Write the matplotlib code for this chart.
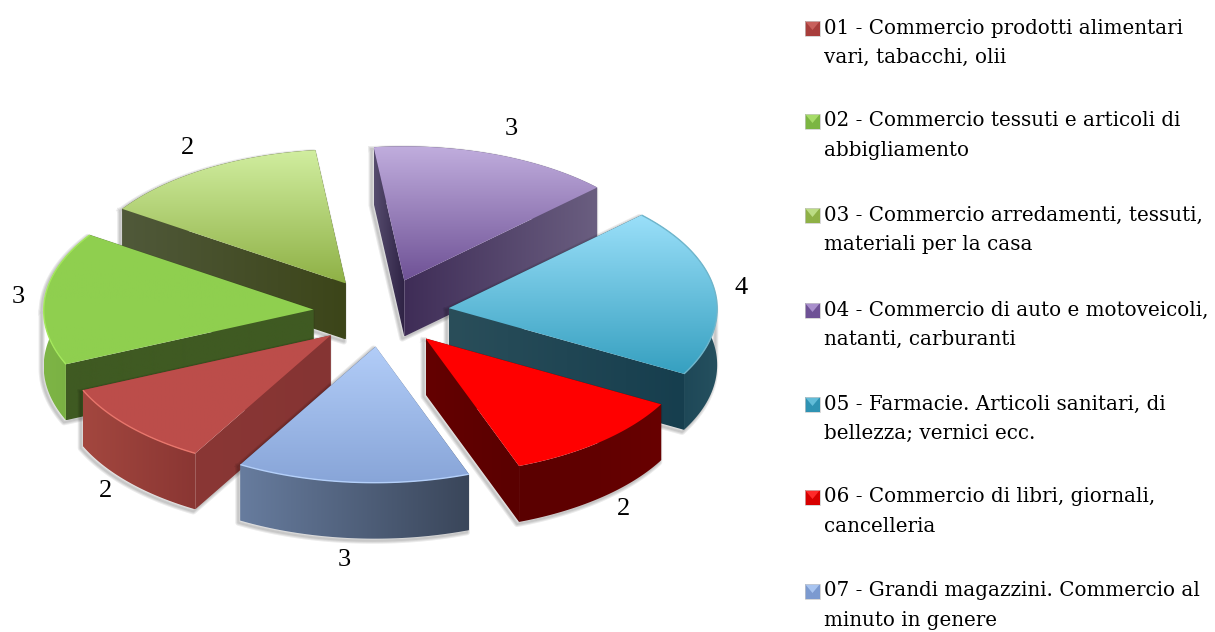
"""
Exploded 3D pie of shops by category, with a two-line legend on the right.
The pie is drawn by hand: matplotlib has no 3D pie, so each slice is a
projected prism with gradient faces.
"""

import numpy as np
import matplotlib
matplotlib.use("Agg")
import matplotlib.pyplot as plt
from matplotlib.patches import Polygon

# ============================================================
# Data
# ============================================================

CATEGORIES = [
    "01 - Commercio prodotti alimentari\nvari, tabacchi, olii",
    "02 - Commercio tessuti e articoli di\nabbigliamento",
    "03 - Commercio arredamenti, tessuti,\nmateriali per la casa",
    "04 - Commercio di auto e motoveicoli,\nnatanti, carburanti",
    "05 - Farmacie. Articoli sanitari, di\nbellezza; vernici ecc.",
    "06 - Commercio di libri, giornali,\ncancelleria",
    "07 - Grandi magazzini. Commercio al\nminuto in genere",
]

# slice sizes as measured on the picture, the printed labels are rounded
VALUES = [1.918, 3.028, 2.629, 2.782, 3.851, 2.148, 2.644]
LABELS = ["2", "3", "2", "3", "4", "2", "3"]

# ============================================================
# Layout and style
# ============================================================

WIDTH, HEIGHT = 1215, 632

# plane of the pie -> pixels (homography), first slice angle, explosion
HOMOGRAPHY = [269.655, -10.233, 381.302, -5.524, -133.434, 312.524, 0.00191, 0.00488]
START_ANGLE = -2.1378
EXPLODE = 0.2526
DEPTH = 56

LABEL_POS = [(105, 491), (18, 297), (187, 148), (511, 129), (741, 288), (623, 509), (344, 560)]
LEGEND_Y = [28, 121, 215, 310, 404, 497, 591]
LEGEND_LINE = 29

# top gradient (upper, lower), then left-to-right wall gradients:
# radial wall at the slice's first edge, at its second edge, outer wall
STYLES = [
    dict(top=("#bc4e4b", "#bc4d4a"), wall_a=("#8a3735", "#853433"), wall_b=("#853433", "#853433"),
         outer=("#a3473f", "#8a3633"), rim="#e8766c", swatch=("#c8605c", "#a83e3c")),
    dict(top=("#8fcf50", "#8fcf4f"), wall_a=("#3f5a22", "#3f5a22"), wall_b=("#3f5a22", "#3f5a22"),
         outer=("#7eb546", "#76ad40"), rim="#a4e85c", swatch=("#a6dc68", "#7cb642")),
    dict(top=("#d1eea0", "#8fb146"), wall_a=("#50593a", "#3c4519"), wall_b=("#3c4519", "#3c4519"),
         outer=("#50593a", "#3c4519"), rim=None, swatch=("#bcdc84", "#8fb146")),
    dict(top=("#c1aede", "#6f5296"), wall_a=("#564c6e", "#2e2244"), wall_b=("#3f2d57", "#6a5e80"),
         outer=("#3f2d57", "#6a5e80"), rim=None, swatch=("#a98fcc", "#6f5296")),
    dict(top=("#9adff9", "#36a0c0"), wall_a=("#2a4e5a", "#2a4e5a"), wall_b=("#2a4e5a", "#163e4e"),
         outer=("#163e4e", "#25505f"), rim="#6fb6cc", swatch=("#62bcd8", "#2f93b3")),
    dict(top=("#ff0000", "#ff0000"), wall_a=("#640000", "#640000"), wall_b=("#640000", "#5a0000"),
         outer=("#5a0000", "#680000"), rim=None, swatch=("#ff2a2a", "#d80000")),
    dict(top=("#b2cdf8", "#88a5d8"), wall_a=("#677c9e", "#3a465a"), wall_b=("#677c9e", "#3a465a"),
         outer=("#677c9e", "#3a465a"), rim="#b4d0fa", swatch=("#a8c4f0", "#7c9ad0")),
]

# far slices first so the near ones paint over them
DRAW_ORDER = [2, 3, 4, 1, 0, 5, 6]

SERIF = "DejaVu Serif"
LABEL_FONT = "Liberation Serif"


# ============================================================
# Helpers
# ============================================================

def project(x, y):
    h = HOMOGRAPHY
    w = 1 + h[6] * x + h[7] * y
    return (h[0] * x + h[1] * y + h[2]) / w, (h[3] * x + h[4] * y + h[5]) / w


def slice_outline(t1, t2):
    """Apex and outer arc of one exploded slice, in pixels."""
    mid = (t1 + t2) / 2
    ax, ay = EXPLODE * np.cos(mid), EXPLODE * np.sin(mid)
    tt = np.linspace(t1, t2, 60)
    apex = np.array(project(ax, ay))
    arc = np.column_stack(project(ax + np.cos(tt), ay + np.sin(tt)))
    return apex, arc


def hex_rgb(c):
    return np.array(matplotlib.colors.to_rgb(c))


def gradient_fill(ax, pts, c1, c2, vertical=False, zorder=2):
    """Fill a polygon with a linear gradient clipped to its shape."""
    pts = np.asarray(pts)
    x0, y0 = pts.min(axis=0)
    x1, y1 = pts.max(axis=0)
    ramp = np.linspace(0, 1, 128)[:, None]
    colors = hex_rgb(c1) * (1 - ramp) + hex_rgb(c2) * ramp
    img = colors[:, None, :] if vertical else colors[None, :, :]
    im = ax.imshow(img, extent=[x0, x1 + 0.01, y1 + 0.01, y0], aspect="auto",
                   interpolation="bilinear", zorder=zorder)
    clip = Polygon(pts, closed=True, transform=ax.transData, facecolor="none", edgecolor="none")
    ax.add_patch(clip)
    im.set_clip_path(clip)


def convex_hull(pts):
    pts = sorted(map(tuple, pts))

    def half(seq):
        out = []
        for p in seq:
            while len(out) > 1 and (out[-1][0] - out[-2][0]) * (p[1] - out[-2][1]) \
                    - (out[-1][1] - out[-2][1]) * (p[0] - out[-2][0]) <= 0:
                out.pop()
            out.append(p)
        return out[:-1]

    return np.array(half(pts) + half(pts[::-1]))


def draw_shadow(ax, pts, zorder):
    # soft grey edge, pushed down-left so only that side shows
    hull = convex_hull(pts) + np.array([-2.0, 2.0])
    closed = np.vstack([hull, hull[:1]])
    for lw in [4.5, 3, 1.5]:
        ax.plot(closed[:, 0], closed[:, 1], color="black", alpha=0.08, lw=lw,
                solid_joinstyle="round", zorder=zorder)


def draw_slice(ax, t1, t2, style, zorder):
    apex, arc = slice_outline(t1, t2)
    down = np.array([0, DEPTH])

    draw_shadow(ax, np.vstack([apex, apex + down, arc, arc + down]), zorder)

    wall_a = np.array([apex, arc[0], arc[0] + down, apex + down])
    wall_b = np.array([apex, arc[-1], arc[-1] + down, apex + down])
    outer = np.vstack([arc, (arc + down)[::-1]])

    # back walls first, they are covered by the front ones and the top
    faces = [(wall_a, style["wall_a"]), (wall_b, style["wall_b"]), (outer, style["outer"])]
    faces.sort(key=lambda f: f[0][:, 1].mean())
    for pts, (c1, c2) in faces:
        gradient_fill(ax, pts, c1, c2, zorder=zorder)

    top = np.vstack([apex, arc])
    gradient_fill(ax, top, style["top"][0], style["top"][1], vertical=True, zorder=zorder)
    if style["rim"]:
        ax.plot(arc[:, 0], arc[:, 1], color=style["rim"], lw=1.0, zorder=zorder,
                solid_capstyle="butt")


def draw_swatch(ax, x, y, style):
    size = 15
    box = [(x, y), (x + size, y), (x + size, y + size), (x, y + size)]
    gradient_fill(ax, box, style["swatch"][1], style["swatch"][1], vertical=True, zorder=5)
    ax.add_patch(Polygon([(x, y), (x + size, y), (x + size / 2, y + size * 0.6)],
                         closed=True, facecolor=style["swatch"][0], edgecolor="none", zorder=6))
    ax.add_patch(Polygon(box, closed=True, facecolor="none", edgecolor="#c8c8c8", lw=0.5, zorder=6))


def main():
    fig = plt.figure(figsize=(WIDTH / 100, HEIGHT / 100), dpi=100)
    ax = fig.add_axes([0, 0, 1, 1])

    shares = np.cumsum([0] + VALUES) / sum(VALUES) * 2 * np.pi
    angles = START_ANGLE - shares

    for rank, i in enumerate(DRAW_ORDER):
        draw_slice(ax, angles[i], angles[i + 1], STYLES[i], zorder=2 + rank * 0.1)

    for label, (x, y) in zip(LABELS, LABEL_POS):
        ax.text(x, y, label, fontsize=19, family=LABEL_FONT, ha="center", va="center",
                color="black", zorder=8)

    for cat, y, style in zip(CATEGORIES, LEGEND_Y, STYLES):
        draw_swatch(ax, 805, y - 7, style)
        first, second = cat.split("\n")
        ax.text(824, y, first, fontsize=14.3, family=SERIF, va="center", color="black", zorder=8)
        ax.text(824, y + LEGEND_LINE, second, fontsize=14.3, family=SERIF, va="center",
                color="black", zorder=8)

    ax.set_xlim(0, WIDTH)
    ax.set_ylim(HEIGHT, 0)
    ax.axis("off")

    fig.savefig("out.png", dpi=100)


if __name__ == "__main__":
    main()
